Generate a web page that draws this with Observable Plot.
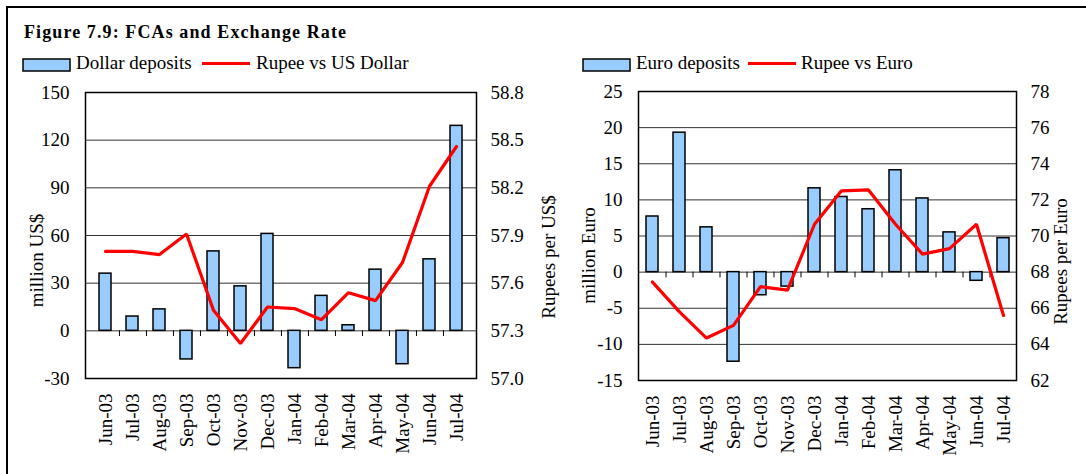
<!DOCTYPE html>
<html>
<head>
<meta charset="utf-8">
<script src="https://cdn.jsdelivr.net/npm/d3@7"></script>
<script src="https://cdn.jsdelivr.net/npm/@observablehq/plot@0.6"></script>
<style>
  html, body { margin: 0; padding: 0; background: #fff; }
  body { width: 1086px; height: 474px; position: relative; overflow: hidden; font-family: 'Liberation Serif', 'Times New Roman', serif; }
  #border { position: absolute; left: 6px; top: 6px; width: 1200px; height: 600px; border: 2.5px solid #000; box-sizing: border-box; }
  #title { position: absolute; left: 24px; top: 22px; font-size: 18px; font-weight: bold; letter-spacing: 1.1px; white-space: nowrap; }
  .chart { position: absolute; top: 80px; }
  #legend { position: absolute; left: 0; top: 0; }
</style>
</head>
<body>
<div id="border"></div>
<div id="title">Figure 7.9: FCAs and Exchange Rate</div>
<svg id="legend" width="1086" height="90" font-family="'Liberation Serif', 'Times New Roman', serif" font-size="19"></svg>
<div id="c1" class="chart" style="left:0px"></div>
<div id="c2" class="chart" style="left:540px"></div>
<script>
// ---- data ----
const months = ["Jun-03","Jul-03","Aug-03","Sep-03","Oct-03","Nov-03","Dec-03","Jan-04","Feb-04","Mar-04","Apr-04","May-04","Jun-04","Jul-04"];
const dollarDeposits = [36, 9, 13.5, -18, 50, 28, 61, -23.5, 22, 3.5, 38.5, -21, 45, 129];
const rupeeUsd = [57.80, 57.80, 57.78, 57.91, 57.43, 57.22, 57.45, 57.44, 57.37, 57.54, 57.49, 57.73, 58.21, 58.46];
const euroDeposits = [7.7, 19.3, 6.2, -12.4, -3.2, -2.0, 11.6, 10.4, 8.7, 14.1, 10.2, 5.5, -1.2, 4.7];
const rupeeEuro = [67.45, 65.8, 64.35, 65.05, 67.2, 67.0, 70.65, 72.5, 72.55, 70.65, 69.0, 69.3, 70.65, 65.6];
const usdTicks = [-30, 0, 30, 60, 90, 120, 150];
const rupeeUsdTicks = [57.0, 57.3, 57.6, 57.9, 58.2, 58.5, 58.8];
const euroTicks = [-15, -10, -5, 0, 5, 10, 15, 20, 25];
const rupeeEuroTicks = [62, 64, 66, 68, 70, 72, 74, 76, 78];
const legend1 = ["Dollar deposits", "Rupee vs US Dollar"];
const legend2 = ["Euro deposits", "Rupee vs Euro"];

const FONT = "'Liberation Serif', 'Times New Roman', serif";
const BAR = "#99CCFF";
const RED = "#FF0000";

function makeChart(cfg) {
  const {width, ml, mr, mt, plotH, mb, leftTicks, rightTicks, toLeft, fromLeft,
         bars, line, leftTitle, rightTitle, lt, rt, tickLen} = cfg;
  const height = mt + plotH + mb;
  const step = (width - ml - mr) / months.length;
  const data = months.map((m, i) => ({month: m, dep: bars[i], rate: toLeft(line[i])}));
  return Plot.plot({
    width, height,
    marginLeft: ml, marginRight: mr, marginTop: mt, marginBottom: mb,
    style: {fontFamily: FONT, fontSize: "19px", background: "transparent", color: "#000", overflow: "visible"},
    x: {type: "band", domain: months, paddingInner: 0.57, paddingOuter: 0.285},
    y: {domain: [leftTicks[0], leftTicks[leftTicks.length - 1]]},
    marks: [
      Plot.gridY(leftTicks.slice(1, -1), {stroke: "#333", strokeOpacity: 1, strokeWidth: 1}),
      Plot.ruleX(months.slice(0, -1), {x: d => d, y1: 0, y2: tickLen, dx: step / 2, stroke: "#000", strokeWidth: 1}),
      Plot.barY(data, {x: "month", y: "dep", fill: BAR, stroke: "#000", strokeWidth: 1.5}),
      Plot.line(data, {x: "month", y: "rate", stroke: RED, strokeWidth: 3.2, strokeLinejoin: "miter"}),
      Plot.frame({stroke: "#000", strokeWidth: 1.5}),
      Plot.axisY(leftTicks, {anchor: "left", tickSize: 0, tickPadding: 16, label: null, tickFormat: d => String(d)}),
      Plot.axisY(rightTicks.map(toLeft), {anchor: "right", tickSize: 0, tickPadding: 14, label: null, tickFormat: fromLeft}),
      Plot.axisX({anchor: "bottom", tickRotate: -90, tickSize: 0, tickPadding: 15, label: null}),
      Plot.text([leftTitle], {frameAnchor: "left", textAnchor: "middle", rotate: -90, dx: lt[0], dy: lt[1], fill: "#000"}),
      Plot.text([rightTitle], {frameAnchor: "right", textAnchor: "middle", rotate: -90, dx: rt[0], dy: rt[1], fill: "#000"})
    ]
  });
}

document.getElementById("c1").append(makeChart({
  width: 540, ml: 85, mr: 64, mt: 12, plotH: 286, mb: 90,
  leftTicks: usdTicks, rightTicks: rupeeUsdTicks,
  toLeft: r => (r - 57.3) * 100,
  fromLeft: d => (57.3 + d / 100).toFixed(1),
  bars: dollarDeposits, line: rupeeUsd,
  leftTitle: "million US$", rightTitle: "Rupees per US$",
  lt: [-48.5, 25], rt: [72.5, 21.5], tickLen: -3.6
}));

document.getElementById("c2").append(makeChart({
  width: 546, ml: 98, mr: 70, mt: 11, plotH: 289, mb: 90,
  leftTicks: euroTicks, rightTicks: rupeeEuroTicks,
  toLeft: r => (r - 68) * 2.5,
  fromLeft: d => String(Math.round(68 + d * 0.4)),
  bars: euroDeposits, line: rupeeEuro,
  leftTitle: "million Euro", rightTitle: "Rupees per Euro",
  lt: [-49.5, 19.5], rt: [44, 25.5], tickLen: -0.8
}));

// ---- legends ----
const lg = d3.select("#legend");
function legend(x0, labels, lineX, textX2) {
  lg.append("rect").attr("x", x0).attr("y", 59).attr("width", 47).attr("height", 12)
    .attr("fill", BAR).attr("stroke", "#000").attr("stroke-width", 1.5);
  lg.append("text").attr("x", x0 + 53).attr("y", 69).text(labels[0]);
  lg.append("line").attr("x1", lineX).attr("x2", lineX + 48).attr("y1", 63.5).attr("y2", 63.5)
    .attr("stroke", RED).attr("stroke-width", 3);
  lg.append("text").attr("x", textX2).attr("y", 69).text(labels[1]);
}
legend(23, legend1, 202, 256);
legend(583, legend2, 748, 801);
</script>
</body>
</html>
